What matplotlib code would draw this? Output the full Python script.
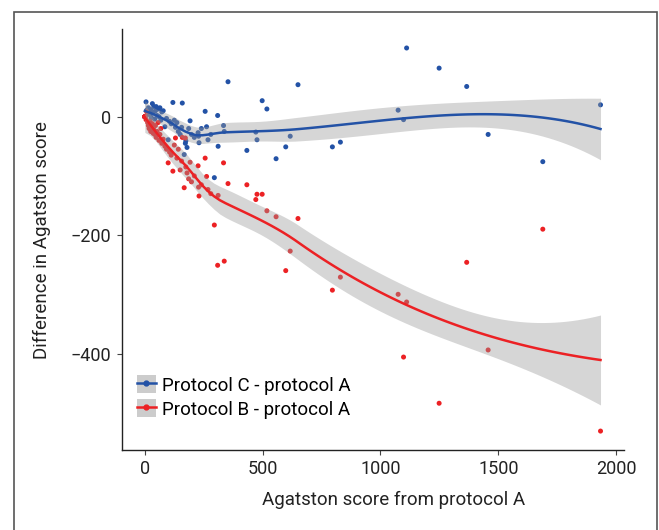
import numpy as np
import matplotlib
matplotlib.use("Agg")
import matplotlib.pyplot as plt
from matplotlib.lines import Line2D
from matplotlib.patches import Patch, Rectangle

# Agatston score from protocol A (shared by both comparisons)
score_a = [0, 0, 0, 0, 0, 0, 5, 8, 12, 15, 18, 22, 25, 28, 32, 35, 38, 42, 45, 48, 52, 56, 60,
           64, 68, 72, 78, 85, 92, 99, 105, 112, 119, 125, 130, 136, 142, 150,
           156, 159, 167, 172, 174, 179, 186, 192, 198, 210, 226, 228, 230, 240,
           256, 262, 268, 280, 295, 309, 311, 334, 337, 353, 433, 471, 476, 498,
           518, 557, 598, 617, 650, 796, 830, 1075, 1098, 1111, 1249, 1366,
           1457, 1689, 1934]
# protocol C - protocol A
diff_c = [0, 0, 0, 0, 0, 0, 25, 11, 5, 15, 8, 3, 12, -2, 22, 6, 17, -4, 10, 17, 2, 13, 0,
          15, -6, 8, 10, -17, -3, -39, -8, -12, 24, -6, -18, -10, -25, -30,
          -18, 23, -64, -45, -41, -52, -20, -7, -30, -35, -27, -33, -44, -20,
          9, -17, -39, -30, -103, 2, -50, -15, -25, 59, -57, -26, -39, 27,
          13, -71, -51, -33, 54, -51, -43, 11, -5, 116, 82, 51,
          -30, -76, 20]
# protocol B - protocol A
diff_b = [0, 0, 0, 0, 0, 0, -5, 8, -10, -15, -20, -8, -25, -18, -12, -28, -22, -30, -15, -35, -25, -10, -40,
          -30, -20, -45, -38, -50, -55, -78, -60, -65, -92, -48, -36, -70, -55, -90,
          -75, -35, -120, -36, -85, -95, -105, -77, -110, -100, -83, -119, -134, -115,
          -70, -101, -123, -130, -183, -251, -133, -78, -244, -113, -115, -140, -131, -131,
          -159, -169, -260, -227, -172, -293, -271, -300, -406, -313, -484, -246,
          -394, -190, -531]

labels = ["Protocol C - protocol A", "Protocol B - protocol A"]
colors = ["#2352a6", "#ec2124"]


def loess_band(x, y, grid, span=0.75, cell=0.2):
    # quadratic loess with kd-tree vertices and cubic Hermite interpolation
    # between them (what R's loess does by default), plus a 95% band
    x = np.asarray(x, float)
    y = np.asarray(y, float)
    n = len(x)
    q = int(np.floor(n * span))
    fc = int(np.floor(n * span * cell))

    def local_rows(x0):
        d = np.abs(x - x0)
        h = np.sort(d)[q - 1]
        u = np.clip(d / h, 0, 1)
        w = (1 - u ** 3) ** 3
        B = np.column_stack([np.ones(n), x - x0, (x - x0) ** 2])
        BtW = B.T * w
        sol = np.linalg.solve(BtW @ B, BtW)
        return sol[0], sol[1]

    xs = np.sort(x)
    mu = 0.005 * (xs[-1] - xs[0])
    verts = {xs[0] - mu, xs[-1] + mu}

    def split(l, u, lo, hi):
        if u - l + 1 <= fc:
            return
        m = (l + u + 2) // 2 - 1
        v = xs[m]
        if v == lo or v == hi:
            return
        verts.add(v)
        split(l, m, lo, v)
        split(m + 1, u, v, hi)

    split(0, n - 1, xs[0] - mu, xs[-1] + mu)
    verts = np.array(sorted(verts))
    vrows = [local_rows(v) for v in verts]

    def interp_row(x0):
        k = min(np.searchsorted(verts, x0, side="right") - 1, len(verts) - 2)
        v0, v1 = verts[k], verts[k + 1]
        hh = v1 - v0
        t = (x0 - v0) / hh
        p0 = (1 - t) ** 2 * (1 + 2 * t)
        p1 = t ** 2 * (3 - 2 * t)
        s0 = t * (1 - t) ** 2 * hh
        s1 = -t ** 2 * (1 - t) * hh
        (a0, b0), (a1, b1) = vrows[k], vrows[k + 1]
        return p0 * a0 + p1 * a1 + s0 * b0 + s1 * b1

    Lg = np.array([interp_row(v) for v in grid])
    Ld = np.array([interp_row(v) for v in x])
    fit = Lg @ y
    R = np.eye(n) - Ld
    M = R.T @ R
    d1 = np.trace(M)
    d2 = np.trace(M @ M)
    s = np.sqrt(np.sum((R @ y) ** 2) / d1)
    se = s * np.sqrt(np.sum(Lg ** 2, axis=1))
    df = d1 ** 2 / d2
    z = 1.959964
    tq = z + (z ** 3 + z) / (4 * df) + (5 * z ** 5 + 16 * z ** 3 + 3 * z) / (96 * df ** 2)
    return fit, fit - tq * se, fit + tq * se


plt.rcParams['font.family'] = ['Roboto', 'DejaVu Sans']

fig = plt.figure(figsize=(6.59, 5.3), dpi=100)
ax = fig.add_axes([0.1851, 0.1509, 0.7612, 0.7943])

fig.patches.append(Rectangle((14 / 659, -0.01), 643 / 659, 1 - 12 / 530 + 0.01,
                             transform=fig.transFigure, fill=False,
                             edgecolor="#555555", linewidth=1.2))

series = [diff_c, diff_b]
for ys, c in zip(series, colors):
    ax.scatter(score_a, ys, s=13, color=c, edgecolors="none", zorder=2)

grid = np.linspace(min(score_a), max(score_a), 80)
for ys, c in zip(series, colors):
    fit, lo, hi = loess_band(score_a, ys, grid)
    ax.fill_between(grid, lo, hi, color="#999999", alpha=0.4, linewidth=0, zorder=3)
    ax.plot(grid, fit, color=c, linewidth=1.8, zorder=4)

ax.set_xlim(-97, 2032)
ax.set_ylim(-563, 148)
ax.set_xticks([0, 500, 1000, 1500, 2000])
ax.set_yticks([0, -200, -400])
for sp in ["top", "right"]:
    ax.spines[sp].set_visible(False)
for sp in ["left", "bottom"]:
    ax.spines[sp].set_linewidth(1.0)
    ax.spines[sp].set_color("#222222")
ax.tick_params(length=3.5, width=0.8, color="#444444", labelsize=13,
               labelcolor="#222222", pad=4)
ax.set_xlabel("Agatston score from protocol A", fontsize=13.5, color="#222222")
ax.xaxis.set_label_coords(0.542, -0.098)
ax.set_ylabel("Difference in Agatston score", fontsize=13.5, color="#222222", labelpad=14)

handles = [(Patch(facecolor="#cccccc", edgecolor="none"),
            Line2D([], [], color=c, linewidth=1.8, marker="o", markersize=3.5))
           for c in colors]
ax.legend(handles, labels, loc="upper left", bbox_to_anchor=(0.015, 0.195),
          frameon=False, fontsize=13.5, handlelength=1.0, handleheight=1.1,
          handletextpad=0.35, labelspacing=0.25, borderaxespad=0)

fig.savefig("out.png", dpi=100)
